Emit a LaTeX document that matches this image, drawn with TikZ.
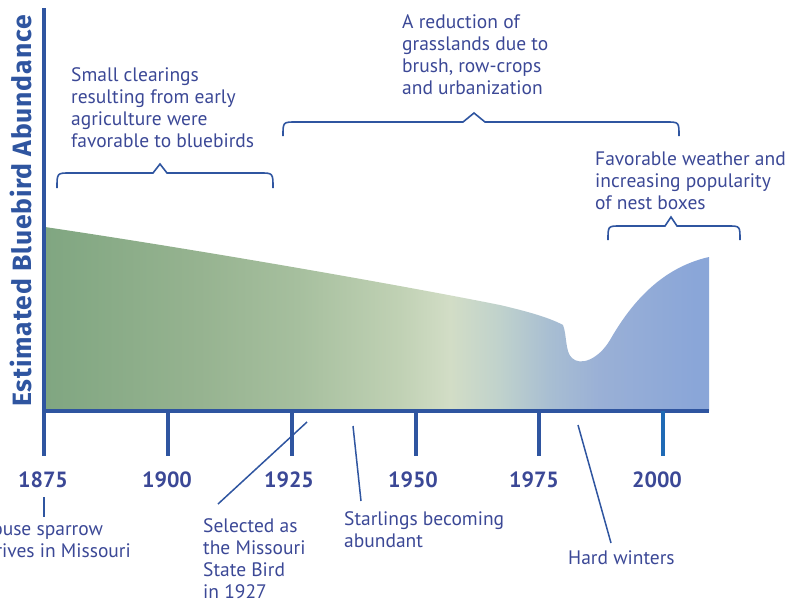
\documentclass[tikz,border=0pt]{standalone}
\usepackage{fontspec}
\setmainfont{PT Sans}
\newfontfamily\ylabfont[LetterSpace=3]{Fira Sans}
\definecolor{txt}{HTML}{3B4896}
\definecolor{axisc}{HTML}{2F55A0}
\definecolor{axisd}{HTML}{1F6AB5}
\definecolor{g0}{HTML}{80A681}
\definecolor{g1}{HTML}{96B390}
\definecolor{g2}{HTML}{A6BF9E}
\definecolor{g3}{HTML}{C0D1B4}
\definecolor{g4}{HTML}{D2DDC6}
\definecolor{g5}{HTML}{C0D2CC}
\definecolor{g6}{HTML}{A8BED2}
\definecolor{g7}{HTML}{9AB0D6}
\definecolor{g8}{HTML}{8AA6D8}
\pgfdeclarehorizontalshading{bbfill}{100bp}{color(0bp)=(g0); color(25bp)=(g0); color(36.6bp)=(g1); color(44bp)=(g2); color(51.7bp)=(g3); color(55.5bp)=(g4); color(59.2bp)=(g5); color(63bp)=(g6); color(66.7bp)=(g7); color(74bp)=(g8); color(100bp)=(g8)}
\newcommand{\lines}[1]{\begin{tabular}[t]{@{}l@{}}#1\end{tabular}}
\begin{document}
\begin{tikzpicture}[x=1pt,y=-1pt,
  body/.style={text=txt, inner sep=0pt, anchor=base west, font=\fontsize{19.5}{22.3}\selectfont},
  year/.style={text=txt, inner sep=0pt, anchor=base, font=\fontsize{22}{26}\selectfont\bfseries},
  leader/.style={draw=axisc, line width=1.5pt},
  bracestyle/.style={draw=axisc, line width=1.6pt, line join=miter},
  axisline/.style={draw=axisc, line width=4pt},
  tickline/.style={draw=axisc, line width=4pt}]
\useasboundingbox (0,0) rectangle (794,606);
% abundance area
\shade[shading=bbfill] (45,411) -- (45,227)
  .. controls (200,250) and (400,285) .. (500,305)
  .. controls (530,312) and (550,318) .. (563,325)
  .. controls (567,335) and (565,352) .. (572,358)
  .. controls (580,366) and (598,360) .. (610,340)
  .. controls (630,305) and (660,268) .. (709,257)
  -- (709,411) -- cycle;
% axes
\coordinate (o) at (44,411);
\coordinate (ytop) at (44,8);
\coordinate (xend) at (709,411);
\draw[axisline] (ytop) -- (o) -- (xend);
% ticks
\foreach \name/\x in {t1875/44,t1900/168,t1925/292,t1950/416,t1975/539}{
  \coordinate (\name a) at (\x,411);
  \coordinate (\name b) at (\x,456);
  \draw[tickline] (\name a) -- (\name b);
}
\coordinate (t2000a) at (663,411);
\coordinate (t2000b) at (663,456);
\draw[tickline, draw=axisd] (t2000a) -- (t2000b);
% year labels
\node[year] (y1875) at (43,487) {1875};
\node[year] (y1900) at (167,487) {1900};
\node[year] (y1925) at (289,487) {1925};
\node[year] (y1950) at (413,487) {1950};
\node[year] (y1975) at (534,487) {1975};
\node[year] (y2000) at (657,487) {2000};
% y label
\node[text=axisc, inner sep=0pt, anchor=base, rotate=90, font=\ylabfont\fontsize{26.5}{30}\selectfont\bfseries] (ylab) at (31,211) {Estimated Bluebird Abundance};
% braces
\draw[bracestyle] (57,188) .. controls (57,173) .. (70,173) -- (153,173) -- (160,164) -- (167,173) -- (260,173) .. controls (273,173) .. (273,188);
\draw[bracestyle] (283,136) .. controls (283,122) .. (296,122) -- (463,122) -- (474,113) -- (485,122) -- (666,122) .. controls (679,122) .. (679,136);
\draw[bracestyle] (608,240) .. controls (608,226) .. (620,226) -- (665,226) -- (671,217) -- (677,226) -- (728,226) .. controls (740,226) .. (740,240);
% top texts
\node[body] (clear) at (71,81) {\lines{Small clearings\\resulting from early\\agriculture were\\favorable to bluebirds}};
\node[body] (reduc) at (402,28) {\lines{A reduction of\\grasslands due to\\brush, row-crops\\and urbanization}};
\node[body] (weather) at (595,165) {\lines{Favorable weather and\\increasing popularity\\of nest boxes}};
% bottom texts
\node[body] (sparrow) at (-21,535) {\lines{House sparrow\\arrives in Missouri}};
\node[body] (state) at (203,532) {\lines{Selected as\\the Missouri\\State Bird\\in 1927}};
\node[body] (starl) at (344,525) {\lines{Starlings becoming\\abundant}};
\node[body] (hard) at (568,564) {Hard winters};
% leaders
\coordinate (sp1) at (44,497); \coordinate (sp2) at (44,517);
\draw[leader] (sp1) -- (sp2);
\coordinate (sb1) at (218,504); \coordinate (sb2) at (307,422);
\draw[leader] (sb1) -- (sb2);
\coordinate (st1) at (353,426); \coordinate (st2) at (361,501);
\draw[leader] (st1) -- (st2);
\coordinate (hw1) at (578,425); \coordinate (hw2) at (611,543);
\draw[leader] (hw1) -- (hw2);
\end{tikzpicture}
\end{document}
